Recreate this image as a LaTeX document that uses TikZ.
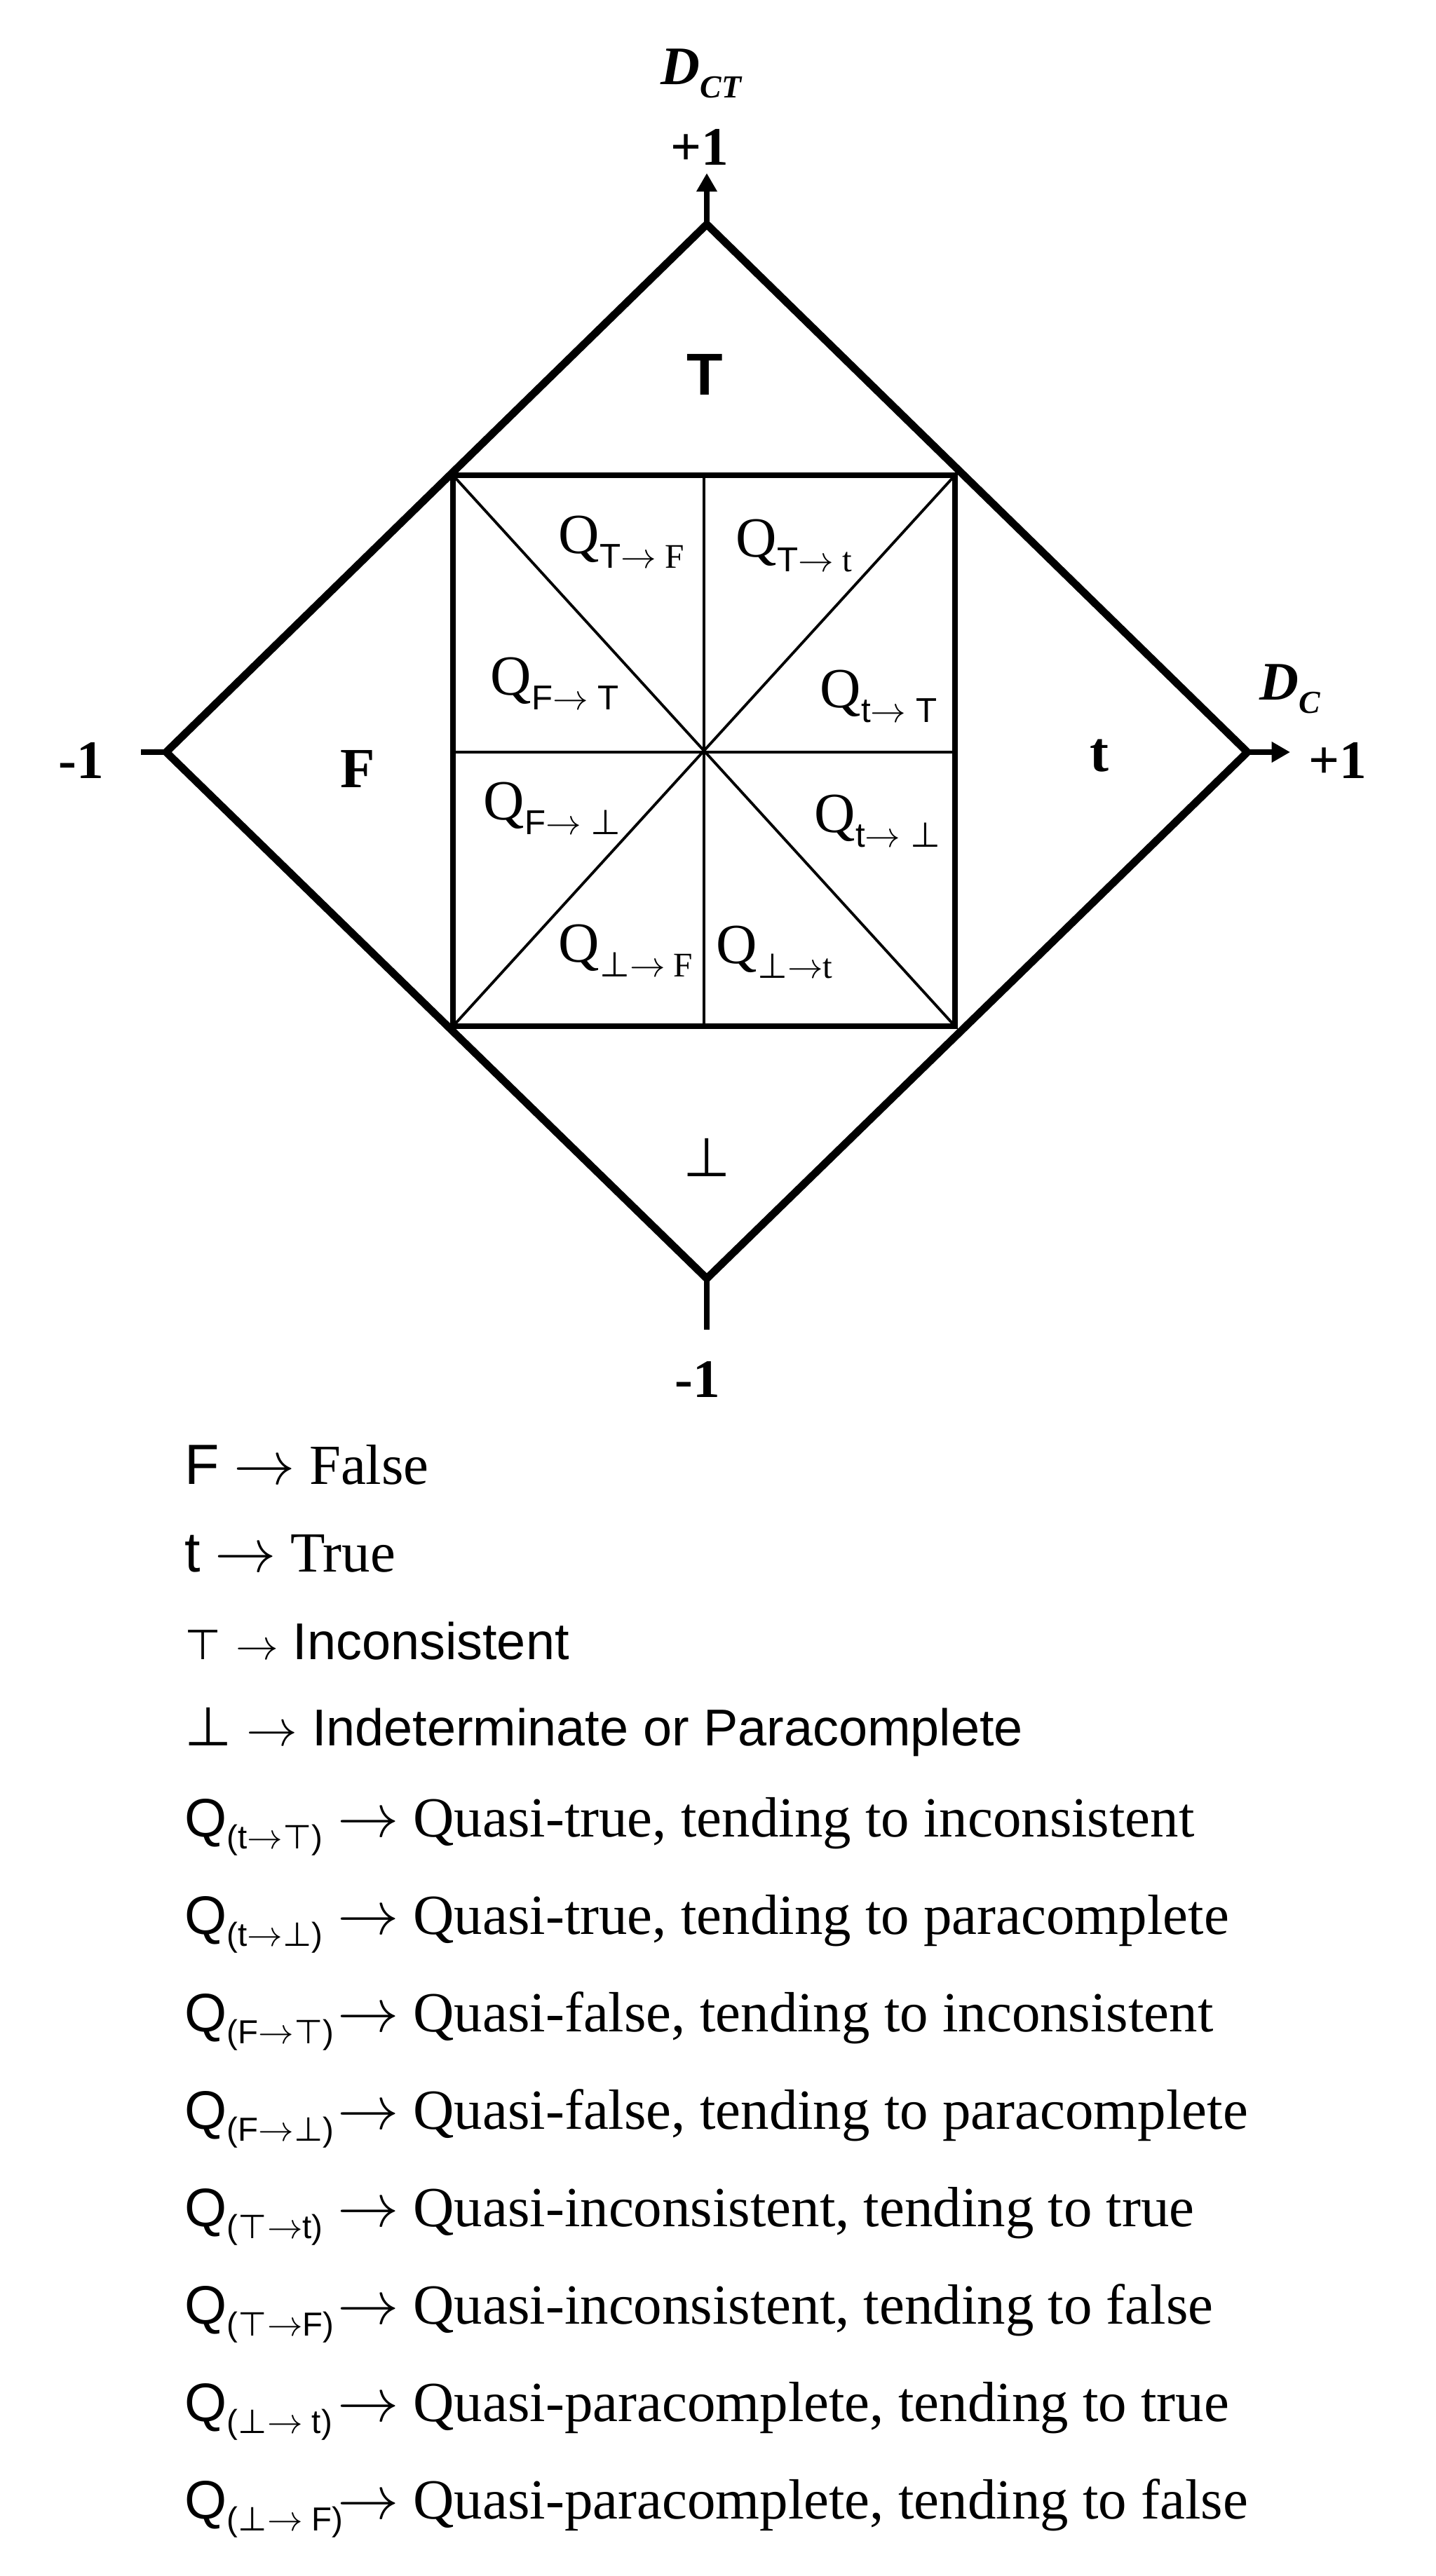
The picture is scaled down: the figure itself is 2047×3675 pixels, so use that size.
\documentclass[tikz,border=0pt]{standalone}
\usepackage{fontspec}
\setmainfont{Liberation Serif}
\setsansfont{Liberation Sans}
\newfontfamily\symfont{DejaVu Sans}
\usetikzlibrary{arrows.meta,positioning,calc}
\newcommand{\fs}[1]{\fontsize{#1}{#1}\selectfont}
\newcommand{\tto}{\ensuremath{\rightarrow}}
\newcommand{\qsub}[1]{\raisebox{-6pt}{\fs{14}#1}}
\newcommand{\lsub}[1]{\raisebox{-5pt}{\fs{13.5}\sffamily #1}}
\newcommand{\qitem}[2]{\makebox[62pt][l]{\fs{22}\sffamily Q\lsub{(#1)}}\tto{} #2}

\begin{document}
\begin{tikzpicture}[x=0.01cm,y=-0.01cm,
 frame/.style={line width=3.1pt,line join=miter},
 box/.style={line width=2.3pt},
 split/.style={line width=1.1pt},
 tick/.style={line width=2.3pt},
 tip/.style={-{Triangle[length=7.5pt,width=8pt]}},
 lbl/.style={inner sep=0pt,anchor=base,font=\fs{22}\bfseries},
 qlbl/.style={inner sep=0pt,anchor=base west,font=\fs{23}},
 leg/.style={inner sep=0pt,anchor=base west,font=\fs{23}}]
\useasboundingbox (0,0) rectangle (2047,3675);
\coordinate (top) at (1008,320);
\coordinate (rgt) at (1779,1073);
\coordinate (bot) at (1008,1824);
\coordinate (lft) at (237,1073);
\coordinate (ytip) at (1008,247);
\coordinate (xtip) at (1840,1073);
\coordinate (xneg) at (201,1073);
\coordinate (yneg) at (1008,1897);
\coordinate (tl) at (646,678);
\coordinate (tr) at (1362,678);
\coordinate (br) at (1362,1464);
\coordinate (bl) at (646,1464);
\coordinate (mt) at (1004,678);
\coordinate (mb) at (1004,1464);
\coordinate (ml) at (646,1073);
\coordinate (mr) at (1362,1073);

\draw[frame] (top) -- (rgt) -- (bot) -- (lft) -- cycle;
\draw[box] (tl) -- (tr) -- (br) -- (bl) -- cycle;
\draw[split] (tl) -- (br) (tr) -- (bl) (mt) -- (mb) (ml) -- (mr);
\draw[tick,tip] (top) -- (ytip);
\draw[tick,tip] (rgt) -- (xtip);
\draw[tick] (lft) -- (xneg);
\draw[tick] (bot) -- (yneg);

\node[lbl,anchor=base west] (dct) at (942,120) {\textit{D}\raisebox{-5.5pt}{\fs{13}\textit{CT}}};
\node[lbl] (ypos) at (998,235) {+1};
\node[lbl,anchor=base west] (dc) at (1796,998) {\textit{D}\raisebox{-5.5pt}{\fs{13}\textit{C}}};
\node[lbl,anchor=base west] (xpos) at (1866,1110) {+1};
\node[lbl,anchor=base west] (xneglbl) at (83,1110) {-1};
\node[lbl] (yneglbl) at (995,1993) {-1};
\node[lbl,font=\fs{24}\sffamily\bfseries] (incon) at (1005,563) {T};
\node[lbl,font=\fs{23}\bfseries] (fals) at (510,1123) {F};
\node[lbl,font=\fs{23}\bfseries] (tru) at (1568,1100) {t};
\node[lbl,font=\fs{22}\symfont] (para) at (1008,1678) {⊥};

\node[qlbl] (qtf) at (796,789) {Q\qsub{{\sffamily T}\tto{} F}};
\node[qlbl] (qtt) at (1049,794) {Q\qsub{{\sffamily T}\tto{} t}};
\node[qlbl] (qft) at (699,991) {Q\qsub{\sffamily F\tto{} T}};
\node[qlbl] (qtT) at (1169,1009) {Q\qsub{\sffamily t\tto{} T}};
\node[qlbl] (qfb) at (689,1169) {Q\qsub{\sffamily F\tto{} {\symfont ⊥}}};
\node[qlbl] (qtb) at (1161,1187) {Q\qsub{\sffamily t\tto{} {\symfont ⊥}}};
\node[qlbl] (qbf) at (796,1372) {Q\qsub{{\symfont ⊥}\tto{} F}};
\node[qlbl] (qbt) at (1021,1374) {Q\qsub{{\symfont ⊥}\tto{}t}};

\node[leg] (l1) at (263,2117) {{\sffamily F} \tto{} False};
\node[leg] (l2) at ($(l1.base west)+(0,125)$) {{\sffamily t} \tto{} True};
\node[leg,font=\fs{21}\sffamily] (l3) at ($(l2.base west)+(0,125)$) {{\symfont\fs{17}⊤} {\fs{17}\tto{}} Inconsistent};
\node[leg,font=\fs{21}\sffamily] (l4) at ($(l3.base west)+(0,123)$) {{\symfont\fs{22}⊥} \tto{} Indeterminate or Paracomplete};
\node[leg] (l5) at ($(l4.base west)+(0,130)$) {\qitem{t\tto{\symfont ⊤}}{Quasi-true, tending to inconsistent}};
\node[leg] (l6) at ($(l5.base west)+(0,139)$) {\qitem{t\tto{\symfont ⊥}}{Quasi-true, tending to paracomplete}};
\node[leg] (l7) at ($(l6.base west)+(0,139)$) {\qitem{F\tto{\symfont ⊤}}{Quasi-false, tending to inconsistent}};
\node[leg] (l8) at ($(l7.base west)+(0,139)$) {\qitem{F\tto{\symfont ⊥}}{Quasi-false, tending to paracomplete}};
\node[leg] (l9) at ($(l8.base west)+(0,139)$) {\qitem{{\symfont ⊤}\tto{}t}{Quasi-inconsistent, tending to true}};
\node[leg] (l10) at ($(l9.base west)+(0,139)$) {\qitem{{\symfont ⊤}\tto{}F}{Quasi-inconsistent, tending to false}};
\node[leg] (l11) at ($(l10.base west)+(0,139)$) {\qitem{{\symfont ⊥}\tto{} t}{Quasi-paracomplete, tending to true}};
\node[leg] (l12) at ($(l11.base west)+(0,139)$) {\qitem{{\symfont ⊥}\tto{} F}{Quasi-paracomplete, tending to false}};
\end{tikzpicture}
\end{document}
